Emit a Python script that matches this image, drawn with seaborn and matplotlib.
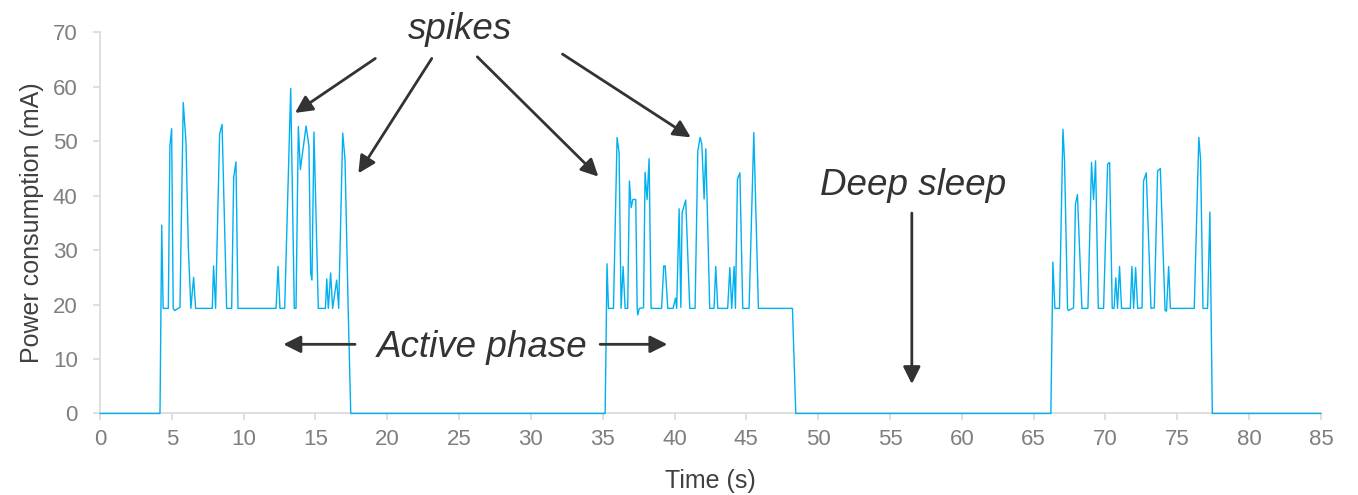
import numpy as np
import pandas as pd
import matplotlib
matplotlib.use("Agg")
import matplotlib.pyplot as plt
import seaborn as sns

# current trace, one list pair per active phase
burst1_t = [0, 4.18, 4.3, 4.4, 4.76, 4.87, 4.99, 5.1, 5.2, 5.57, 5.8, 5.99, 6.15, 6.33,
            6.52, 6.66, 7.82, 7.91, 8.05, 8.33, 8.5, 8.82, 9.17, 9.31, 9.47, 9.61,
            12.26, 12.4, 12.53, 12.86, 13.28, 13.53, 13.65, 13.81, 13.95, 14.35, 14.55,
            14.67, 14.76, 14.9, 15.2, 15.7, 15.79, 15.9, 16.06, 16.2, 16.48, 16.62,
            16.9, 17.06, 17.28, 17.46]
burst1_ma = [0, 0, 34.6, 19.3, 19.3, 49.1, 52.3, 19.3, 18.9, 19.5, 57.1, 49.8, 30.7, 19.3,
             25.0, 19.3, 19.3, 27.1, 19.3, 51.3, 53.1, 19.3, 19.3, 43.3, 46.2, 19.3,
             19.3, 27.0, 19.3, 19.3, 59.7, 19.3, 19.3, 52.7, 44.8, 52.8, 49.1,
             25.8, 24.5, 51.7, 19.3, 19.3, 24.7, 19.3, 25.8, 19.3, 24.5, 19.3,
             51.5, 46.7, 19.3, 0]

burst2_t = [35.17, 35.3, 35.4, 35.75, 36.0, 36.14, 36.28, 36.42, 36.56, 36.74, 36.86,
            36.98, 37.1, 37.3, 37.4, 37.44, 37.55, 37.84, 37.95, 38.09, 38.23, 38.37,
            39.1, 39.25, 39.35, 39.53, 39.9, 40.07, 40.15, 40.32, 40.44, 40.53, 40.78,
            41.06, 41.43, 41.62, 41.78, 41.9, 42.06, 42.18, 42.45, 42.75, 42.87, 43.01,
            43.7, 43.85, 43.98, 44.15, 44.24, 44.38, 44.55, 44.75, 45.19, 45.52, 45.84,
            48.21, 48.44]
burst2_ma = [0, 27.5, 19.3, 19.3, 50.7, 47.9, 19.3, 27.0, 19.3, 19.3, 42.7,
             37.8, 39.3, 39.3, 19.3, 18.1, 19.3, 19.4, 44.3, 39.3, 46.8, 19.3,
             19.3, 27.1, 27.1, 19.3, 19.3, 21.2, 19.3, 37.6, 19.5, 36.9, 39.2,
             19.3, 19.3, 48.2, 50.7, 49.5, 39.4, 48.6, 19.3, 19.3, 27.0, 19.3,
             19.3, 26.8, 19.3, 27.0, 19.3, 43.0, 44.2, 19.3, 19.3, 51.6, 19.3,
             19.3, 0]

burst3_t = [66.2, 66.34, 66.48, 66.8, 67.04, 67.15, 67.36, 67.42, 67.78, 67.91, 68.05,
            68.36, 68.78, 69.03, 69.17, 69.31, 69.5, 69.87, 70.15, 70.29, 70.47, 70.6,
            70.72, 70.84, 70.98, 71.12, 71.73, 71.84, 71.96, 72.1, 72.24, 72.55, 72.65,
            72.84, 73.17, 73.4, 73.63, 73.82, 74.15, 74.25, 74.4, 74.52, 76.18, 76.5,
            76.62, 76.79, 77.11, 77.27, 77.44, 85]
burst3_ma = [0, 27.8, 19.3, 19.3, 52.2, 46.5, 19.3, 18.9, 19.4, 38.4, 40.2,
             19.3, 19.3, 46.1, 39.3, 46.4, 19.3, 19.3, 45.8, 46.1, 19.3, 19.3,
             24.9, 19.3, 27.0, 19.3, 19.3, 27.0, 19.3, 26.8, 19.3, 19.4, 42.7,
             44.2, 19.3, 19.4, 44.5, 45.0, 18.9, 18.8, 27.0, 19.3, 19.3, 50.7,
             46.7, 19.3, 19.3, 37.0, 0, 0]

x_ticks = list(range(0, 90, 5))
y_ticks = list(range(0, 80, 10))

df = pd.DataFrame({
    "time": burst1_t + burst2_t + burst3_t,
    "current": burst1_ma + burst2_ma + burst3_ma,
})

sns.set_style("white")
plt.rcParams["font.family"] = ["Liberation Sans", "DejaVu Sans"]

fig = plt.figure(figsize=(13.58, 4.95), dpi=100)
ax = fig.add_axes([0.0736, 0.1647, 0.8991, 0.7700])

sns.lineplot(data=df, x="time", y="current", ax=ax, estimator=None, sort=False,
             color="#00B0F0", linewidth=1.0)
# keep the zero-level trace visible on top of the axis line
for ln in ax.lines:
    ln.set_clip_on(False)
    ln.set_zorder(3)

ax.set_xlim(0, 85)
ax.set_ylim(0, 70)
ax.set_xticks(x_ticks)
ax.set_yticks(y_ticks)

for side in ["top", "right"]:
    ax.spines[side].set_visible(False)
for side in ["left", "bottom"]:
    ax.spines[side].set_color("#d9d9d9")
    ax.spines[side].set_linewidth(1.2)

ax.tick_params(axis="both", colors="#d9d9d9", labelcolor="#7f7f7f",
               labelsize=16, length=5, width=1.2, direction="out")
ax.tick_params(axis="x", pad=6, bottom=True)
ax.tick_params(axis="y", pad=11, left=True)

ax.set_xlabel("Time (s)", fontsize=18, color="#404040")
ax.set_ylabel("Power consumption (mA)", fontsize=18, color="#404040")
ax.xaxis.set_label_coords(0.5, -0.145)
ax.yaxis.set_label_coords(-0.046, 0.5)

txt = dict(fontsize=26.5, style="italic", color="#333333", ha="center", va="baseline")
ax.text(25.1, 68.7, "spikes", **txt)
ax.text(26.6, 10.3, "Active phase", **txt)
ax.text(56.6, 40.1, "Deep sleep", **txt)

arrow = dict(arrowstyle="-|>", color="#333333", lw=2.0, mutation_scale=26,
             shrinkA=0, shrinkB=0)
ax.annotate("", xy=(13.58, 55.2), xytext=(19.17, 65.2), arrowprops=arrow, annotation_clip=False)
ax.annotate("", xy=(17.99, 44.1), xytext=(23.1, 65.2), arrowprops=arrow, annotation_clip=False)
ax.annotate("", xy=(34.7, 43.5), xytext=(26.27, 65.5), arrowprops=arrow, annotation_clip=False)
ax.annotate("", xy=(41.13, 50.7), xytext=(32.2, 66.0), arrowprops=arrow, annotation_clip=False)
ax.annotate("", xy=(12.77, 12.7), xytext=(17.76, 12.7), arrowprops=arrow)
ax.annotate("", xy=(39.5, 12.7), xytext=(34.82, 12.7), arrowprops=arrow)
ax.annotate("", xy=(56.52, 5.4), xytext=(56.52, 36.8), arrowprops=arrow)

fig.savefig("out.png", dpi=100)
